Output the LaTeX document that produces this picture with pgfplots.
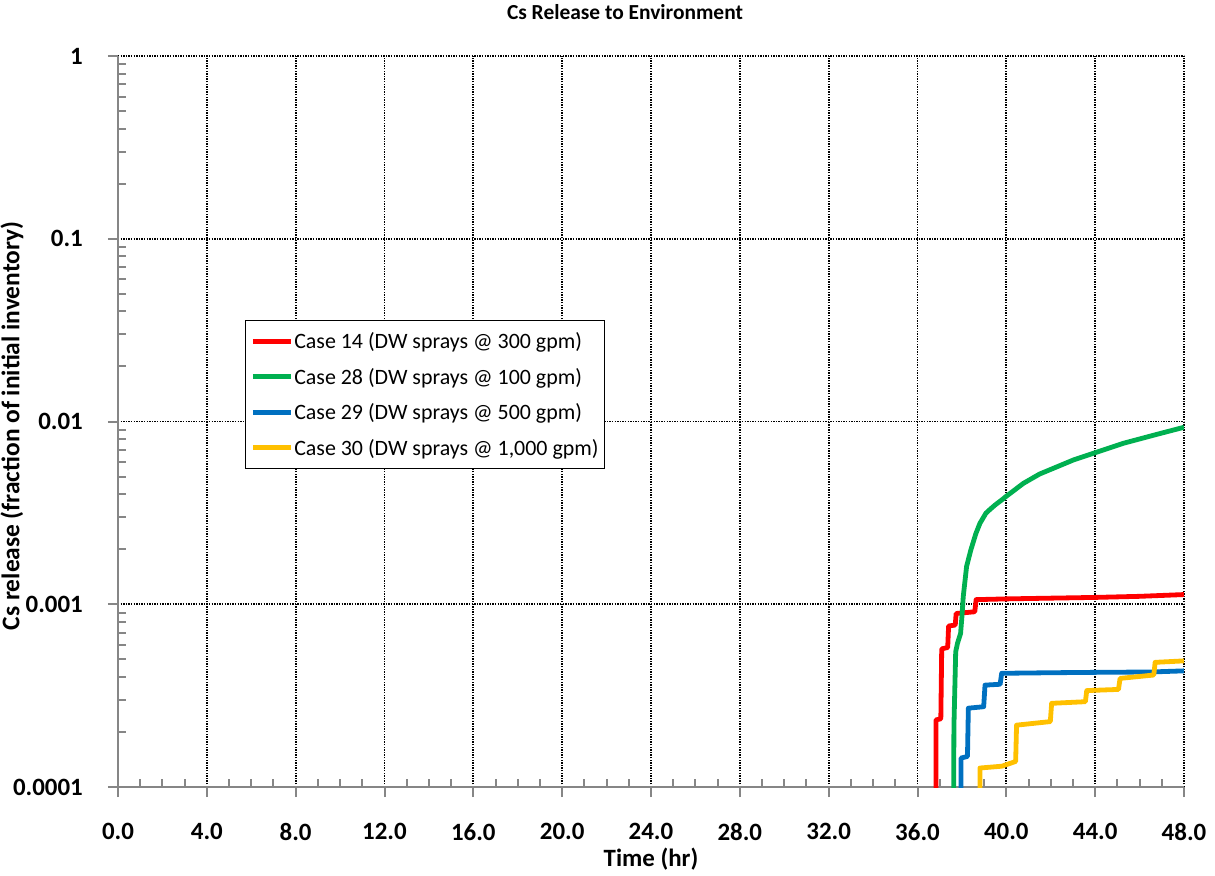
\documentclass[border=0pt]{standalone}
\usepackage{fontspec}
\setmainfont{Carlito}
\usepackage{pgfplots}
\pgfplotsset{compat=1.18}
\definecolor{cred}{HTML}{FF0000}
\definecolor{cgreen}{HTML}{00B050}
\definecolor{cblue}{HTML}{0070C0}
\definecolor{cyellow}{HTML}{FFC000}
\definecolor{axgray}{HTML}{868686}
\begin{document}
\begin{tikzpicture}
\useasboundingbox (-118bp,-89bp) rectangle (1097bp,787bp);
\begin{axis}[
  at={(0,0)}, anchor=south west,
  scale only axis, width=1066bp, height=731bp,
  xmin=0, xmax=48, ymin=1e-4, ymax=1, ymode=log, log basis y=10,
  xtick={0,4,...,48},
  xticklabels={0.0,4.0,8.0,12.0,16.0,20.0,24.0,28.0,32.0,36.0,40.0,44.0,48.0},
  minor x tick num=3,
  ytick={1e-4,1e-3,1e-2,1e-1,1},
  yticklabels={0.0001,0.001,0.01,0.1,1},
  minor ytick={2e-4,3e-4,4e-4,5e-4,6e-4,7e-4,8e-4,9e-4,
               2e-3,3e-3,4e-3,5e-3,6e-3,7e-3,8e-3,9e-3,
               2e-2,3e-2,4e-2,5e-2,6e-2,7e-2,8e-2,9e-2,
               2e-1,3e-1,4e-1,5e-1,6e-1,7e-1,8e-1,9e-1},
  axis x line*=bottom, axis y line*=left,
  axis line style={draw=axgray, line width=2bp, -},
  tick style={draw=axgray, line width=2bp},
  tick align=outside,
  major tick length=10bp, minor tick length=-8bp,
  grid=major,
  major grid style={black, line width=1.8bp, dash pattern=on 1.5bp off 1.1bp},
  ticklabel style={font=\bfseries\fontsize{25}{30}\selectfont},
  xticklabel style={anchor=north, inner sep=0pt, yshift=-26bp},
  yticklabel style={anchor=east, inner sep=0pt, xshift=-25bp},
  title={Cs Release to Environment},
  title style={font=\bfseries\fontsize{21.5}{24}\selectfont, at={(0.4756,1.0424)}, anchor=base},
  xlabel={Time (hr)},
  xlabel style={font=\bfseries\fontsize{25}{28}\selectfont, at={(0.5,-0.0985)}, anchor=center},
  ylabel={Cs release (fraction of initial inventory)},
  ylabel style={font=\bfseries\fontsize{25.5}{30}\selectfont, at={(-0.0995,0.494)}, anchor=center},
  legend style={at={(0.1191,0.6389)}, anchor=north west, draw=black, line width=1bp,
    font=\fontsize{22}{26}\selectfont, inner xsep=5bp, inner ysep=10bp, row sep=14bp,
    nodes={inner xsep=1bp, inner ysep=2bp}},
  legend cell align=left,
  legend image code/.code={\draw[#1, line width=4.8bp] (0bp,0bp) -- (38bp,0bp);},
  every axis plot/.append style={line width=4.8bp, line join=round},
]
\addplot[cred] coordinates {
(36.83,5e-5) (36.83,2.33e-4) (37.05,2.36e-4) (37.09,5.7e-4) (37.36,5.8e-4)
(37.40,7.6e-4) (37.70,7.7e-4) (37.74,8.9e-4) (38.58,9.1e-4) (38.64,1.06e-3)
(40,1.07e-3) (42,1.08e-3) (44,1.09e-3) (46,1.105e-3) (48,1.13e-3)};
\addlegendentry{Case 14 (DW sprays @ 300 gpm)}
\addplot[cgreen] coordinates {
(37.62,5e-5) (37.64,2.14e-4) (37.72,5.5e-4) (37.80,6.11e-4) (37.94,6.93e-4)
(38.00,8.55e-4) (38.06,1.10e-3) (38.21,1.61e-3) (38.40,1.98e-3) (38.63,2.44e-3)
(38.81,2.77e-3) (39.08,3.15e-3) (39.26,3.30e-3) (39.49,3.49e-3) (39.79,3.72e-3)
(40.0,3.90e-3) (40.77,4.59e-3) (41.5,5.16e-3) (43.02,6.16e-3) (44.0,6.75e-3)
(45.27,7.6e-3) (46.77,8.5e-3) (48,9.3e-3)};
\addlegendentry{Case 28 (DW sprays @ 100 gpm)}
\addplot[cblue] coordinates {
(37.96,5e-5) (37.96,1.44e-4) (38.25,1.47e-4) (38.29,2.7e-4) (38.98,2.75e-4)
(39.04,3.61e-4) (39.72,3.65e-4) (39.79,4.19e-4) (42,4.22e-4) (44,4.24e-4)
(46.5,4.26e-4) (48,4.32e-4)};
\addlegendentry{Case 29 (DW sprays @ 500 gpm)}
\addplot[cyellow] coordinates {
(38.81,5e-5) (38.81,1.27e-4) (39.8,1.30e-4) (40.42,1.38e-4) (40.46,2.18e-4)
(41.98,2.28e-4) (42.04,2.87e-4) (43.56,2.93e-4) (43.62,3.37e-4) (45.05,3.42e-4)
(45.12,3.93e-4) (46.64,4.1e-4) (46.7,4.81e-4) (48,4.9e-4)};
\addlegendentry{Case 30 (DW sprays @ 1,000 gpm)}
\end{axis}
\end{tikzpicture}
\end{document}
